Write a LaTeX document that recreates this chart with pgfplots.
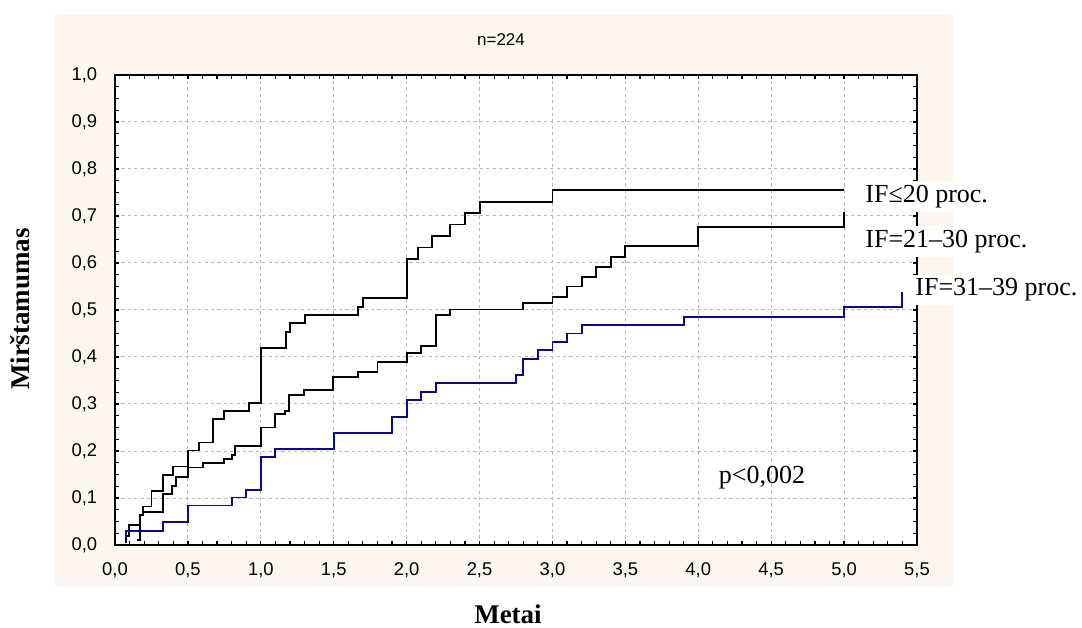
\documentclass[border=0pt]{standalone}
\usepackage{fontspec}
\setmainfont{Liberation Serif}
\newfontfamily\arial{Liberation Sans}
\usepackage{pgfplots}
\pgfplotsset{compat=1.18}
\definecolor{panel}{RGB}{253,246,239}
\definecolor{kmblue}{RGB}{10,10,135}
\definecolor{gridgray}{RGB}{185,185,185}
\begin{document}
\begin{tikzpicture}
\useasboundingbox (-57.5pt,-41pt) rectangle (483.5pt,272.5pt);
\fill[panel] (-30pt,-21pt) rectangle (419pt,265.5pt);
\begin{axis}[scale only axis, width=401pt, height=235pt,
    at={(0pt,0pt)}, anchor=south west,
    xmin=0, xmax=5.5, ymin=0, ymax=1,
    xtick={0,0.5,1,1.5,2,2.5,3,3.5,4,4.5,5,5.5},
    ytick={0,0.1,0.2,0.3,0.4,0.5,0.6,0.7,0.8,0.9,1},
    minor x tick num=4, minor y tick num=3,
    tick align=inside, major tick length=2.2pt, minor tick length=2.2pt,
    grid=major,
    major grid style={gridgray, line width=0.5pt, dash pattern=on 1.6pt off 1.6pt},
    axis line style={line width=1pt},
    every tick/.style={black, line width=0.6pt},
    axis background/.style={fill=white},
    /pgf/number format/.cd, fixed, fixed zerofill, precision=1, use comma,
    assume math mode=true,
    /pgfplots/.cd,
    tick label style={font=\arial\fontsize{9.2}{11}\selectfont},
    xticklabel style={yshift=-5.3pt},
    yticklabel style={xshift=-5.4pt},
    clip=false]
% IF<=20
\addplot[const plot, black, line width=0.95pt] coordinates {
 (0.073,0.005)(0.073,0.02)(0.098,0.043)(0.171,0.064)(0.194,0.082)(0.25,0.115)
 (0.327,0.149)(0.40,0.167)(0.50,0.201)(0.578,0.218)(0.674,0.268)(0.75,0.285)
 (0.919,0.303)(1.0,0.42)(1.171,0.454)(1.20,0.472)(1.30,0.489)(1.669,0.507)
 (1.703,0.525)(2.0,0.608)(2.08,0.633)(2.172,0.657)(2.298,0.682)(2.40,0.707)
 (2.503,0.730)(3.0,0.755)(5.0,0.755)};
% IF=21-30
\addplot[const plot, black, line width=0.95pt] coordinates {
 (0.149,0.011)(0.171,0.064)(0.194,0.071)(0.327,0.108)(0.393,0.126)(0.418,0.145)
 (0.50,0.165)(0.601,0.174)(0.75,0.183)(0.80,0.191)(0.823,0.211)(1.0,0.250)
 (1.097,0.279)(1.166,0.286)(1.196,0.319)(1.298,0.330)(1.497,0.358)(1.669,0.369)
 (1.80,0.390)(2.0,0.409)(2.099,0.423)(2.199,0.489)(2.298,0.501)(2.796,0.514)
 (3.0,0.528)(3.098,0.550)(3.2,0.571)(3.30,0.592)(3.40,0.613)(3.50,0.636)
 (4.0,0.677)(5.0,0.677)(5.0,0.709)};
% IF=31-39
\addplot[const plot, kmblue, line width=0.95pt] coordinates {
 (0.075,0.014)(0.075,0.030)(0.327,0.048)(0.50,0.084)(0.80,0.101)(0.896,0.117)
 (1.0,0.187)(1.095,0.204)(1.5,0.239)(1.898,0.273)(2.0,0.309)(2.099,0.326)
 (2.199,0.344)(2.75,0.361)(2.80,0.396)(2.90,0.415)(3.0,0.431)(3.1,0.450)
 (3.2,0.468)(3.9,0.486)(5.0,0.507)(5.40,0.507)(5.40,0.539)};
\end{axis}
\node[font=\arial\fontsize{8.5}{10}\selectfont] at (193pt,252.5pt) {n=224};
\node[font=\fontsize{13}{15}\selectfont] at (323.5pt,33.5pt) {p<0,002};
\node[font=\fontsize{13}{15}\selectfont, fill=white, inner sep=2pt, anchor=west] at (373pt,174.25pt) {IF≤20 proc.};
\node[font=\fontsize{13}{15}\selectfont, fill=white, inner sep=2pt, anchor=west] at (373pt,151.75pt) {IF=21–30 proc.};
\node[font=\fontsize{13}{15}\selectfont, fill=white, inner sep=2pt, anchor=west] at (398pt,127.5pt) {IF=31–39 proc.};
\node[font=\bfseries\fontsize{13.5}{16}\selectfont, rotate=90] at (-47.5pt,118pt) {Mirštamumas};
\node[font=\bfseries\fontsize{13.5}{16}\selectfont, anchor=base] at (196.5pt,-39pt) {Metai};
\end{tikzpicture}
\end{document}
